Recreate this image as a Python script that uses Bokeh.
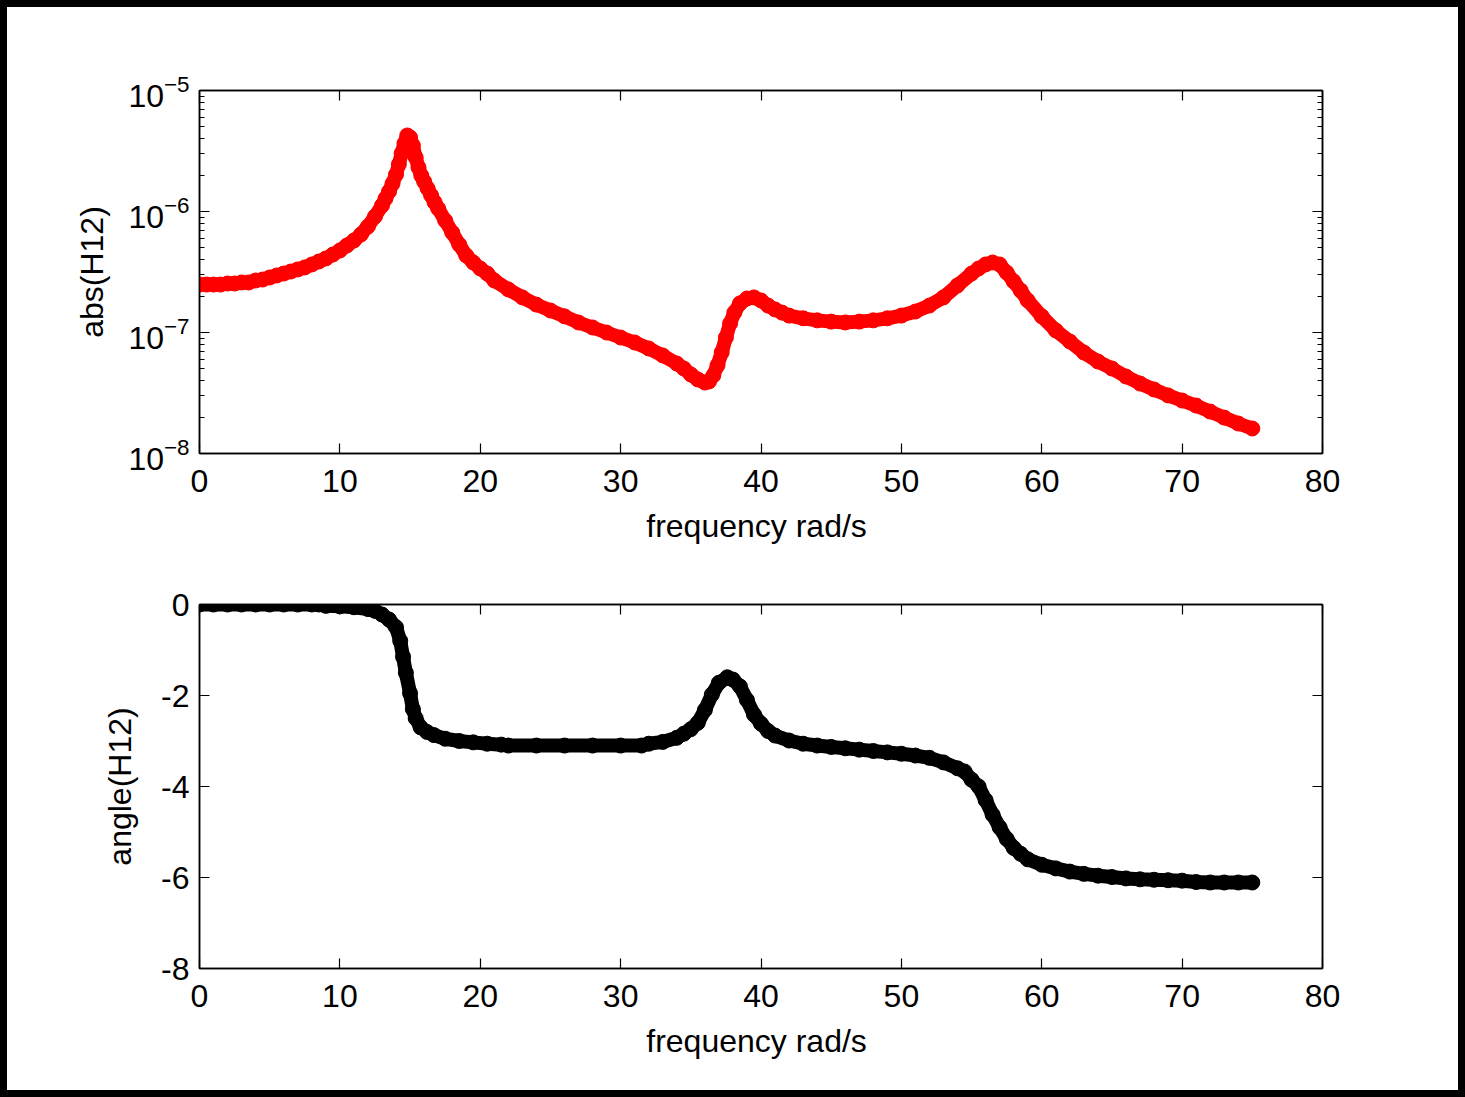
from bokeh.plotting import figure
from bokeh.layouts import column
from bokeh.models import (Range1d, LinearAxis, LogAxis, FixedTicker, LogTicker,
                          CustomJSTickFormatter, LogTickFormatter)
from bokeh.embed import file_html
from bokeh.resources import INLINE

# ---- data ----
freq_mag = [0, 0.5, 1, 1.5, 2, 2.5, 3, 3.5, 4, 4.5, 5, 5.5, 6, 6.5, 7, 7.5, 8, 8.5,
            9, 9.5, 10, 10.5, 11, 11.5, 12, 12.5, 13, 13.25, 13.5, 13.75, 14, 14.2,
            14.4, 14.6, 14.8, 15.0, 15.2, 15.4, 15.6, 15.8, 16.0, 16.25, 16.5, 16.75,
            17, 17.5, 18, 18.5, 19, 19.5, 20, 20.5, 21, 22, 23, 24, 25, 26, 27, 28,
            29, 30, 31, 32, 33, 34, 34.5, 35, 35.5, 36, 36.3, 36.6, 36.9, 37.2, 37.5,
            37.8, 38.1, 38.5, 39, 39.5, 40, 40.5, 41, 41.5, 42, 43, 44, 45, 46, 47,
            48, 49, 50, 51, 52, 53, 54, 55, 55.5, 56, 56.5, 57, 57.5, 58, 58.5, 59,
            60, 61, 62, 63, 64, 65, 66, 67, 68, 69, 70, 71, 72, 73, 74, 75]
abs_h12 = [2.49e-7, 2.49e-7, 2.49e-7, 2.49e-7, 2.54e-7, 2.54e-7, 2.59e-7, 2.59e-7,
           2.69e-7, 2.74e-7, 2.85e-7, 2.96e-7, 3.07e-7, 3.19e-7, 3.32e-7, 3.45e-7,
           3.65e-7, 3.86e-7, 4.09e-7, 4.41e-7, 4.76e-7, 5.24e-7, 5.76e-7, 6.46e-7,
           7.52e-7, 9.09e-7, 1.12e-6, 1.28e-6, 1.46e-6, 1.70e-6, 2.02e-6, 2.45e-6,
           3.02e-6, 3.65e-6, 4.25e-6, 4.09e-6, 3.51e-6, 2.80e-6, 2.31e-6, 1.98e-6,
           1.77e-6, 1.55e-6, 1.36e-6, 1.19e-6, 1.06e-6, 8.43e-7, 6.71e-7, 5.34e-7,
           4.33e-7, 3.79e-7, 3.38e-7, 3.07e-7, 2.69e-7, 2.27e-7, 1.95e-7, 1.70e-7,
           1.52e-7, 1.36e-7, 1.21e-7, 1.10e-7, 1.00e-7, 9.09e-8, 8.27e-8, 7.38e-8,
           6.46e-8, 5.54e-8, 5.04e-8, 4.50e-8, 4.09e-8, 3.86e-8, 3.94e-8, 4.41e-8,
           5.34e-8, 6.83e-8, 9.09e-8, 1.19e-7, 1.46e-7, 1.74e-7, 1.91e-7, 1.95e-7,
           1.84e-7, 1.67e-7, 1.55e-7, 1.46e-7, 1.38e-7, 1.31e-7, 1.26e-7, 1.23e-7,
           1.21e-7, 1.23e-7, 1.26e-7, 1.31e-7, 1.38e-7, 1.49e-7, 1.67e-7, 1.95e-7,
           2.45e-7, 3.07e-7, 3.38e-7, 3.65e-7, 3.79e-7, 3.65e-7, 3.13e-7, 2.64e-7,
           2.22e-7, 1.84e-7, 1.36e-7, 1.04e-7, 8.43e-8, 6.83e-8, 5.76e-8, 5.04e-8,
           4.33e-8, 3.79e-8, 3.38e-8, 3.02e-8, 2.74e-8, 2.49e-8, 2.22e-8, 1.98e-8,
           1.77e-8, 1.61e-8]

freq_ang = [0, 1, 2, 3, 4, 5, 6, 7, 8, 8.5, 9, 10, 11, 12, 12.5, 13, 13.5, 14, 14.3,
            14.5, 14.7, 15.0, 15.2, 15.4, 15.75, 16.2, 16.7, 17.5, 18.5, 19.5, 20.5,
            21.5, 22, 24, 26, 28, 30, 31.5, 32, 33, 34, 34.5, 35, 35.5, 36, 36.5, 37,
            37.6, 38, 38.5, 39, 39.5, 40, 40.5, 41, 42, 43, 44, 45, 46, 47, 48, 49,
            50, 51, 52, 53, 54, 54.5, 55, 55.5, 56, 56.5, 57, 57.5, 58, 58.5, 59, 60,
            61, 62, 63, 64, 65, 66, 67, 68, 69, 70, 71, 72, 73, 74, 75]
angle_h12 = [0, 0, 0, 0, 0, 0, 0, 0, 0, 0, -0.03, -0.04, -0.06, -0.1, -0.14, -0.22,
             -0.33, -0.5, -0.8, -1.15, -1.5, -1.95, -2.3, -2.5, -2.7, -2.8, -2.87,
             -2.95, -3.0, -3.03, -3.06, -3.08, -3.1, -3.1, -3.1, -3.1, -3.1, -3.1,
             -3.06, -3.02, -2.93, -2.84, -2.74, -2.6, -2.32, -1.98, -1.72, -1.6,
             -1.65, -1.8, -2.1, -2.42, -2.62, -2.78, -2.88, -2.99, -3.06, -3.1,
             -3.13, -3.16, -3.19, -3.22, -3.25, -3.28, -3.32, -3.37, -3.47, -3.6,
             -3.67, -3.85, -4.0, -4.3, -4.62, -4.9, -5.15, -5.35, -5.48, -5.6,
             -5.72, -5.8, -5.87, -5.92, -5.96, -5.99, -6.02, -6.04, -6.05, -6.06,
             -6.07, -6.1, -6.11, -6.11, -6.11, -6.11]

freq_ticks = [0, 10, 20, 30, 40, 50, 60, 70, 80]
angle_ticks = [-8, -6, -4, -2, 0]
mag_range = [1e-8, 1e-5]

FONT = "Liberation Sans"
FS = "32px"


def style_axis(ax, labels=True, minor=False):
    ax.axis_line_color = "black"
    ax.axis_line_width = 1.5
    ax.major_tick_line_color = "black"
    ax.major_tick_line_width = 1.2
    ax.major_tick_in = 10
    ax.major_tick_out = 0
    if minor:
        ax.minor_tick_line_color = "black"
        ax.minor_tick_in = 5
        ax.minor_tick_out = 0
    else:
        ax.minor_tick_line_color = None
    ax.major_label_text_font = FONT
    ax.major_label_text_font_size = FS
    ax.major_label_text_color = "black"
    ax.axis_label_text_font = FONT
    ax.axis_label_text_font_size = FS
    ax.axis_label_text_font_style = "normal"
    ax.axis_label_text_color = "black"
    if not labels:
        ax.formatter = CustomJSTickFormatter(code="return ''")
        ax.major_label_standoff = 0


def make_fig(height, top, bottom, **kw):
    p = figure(width=1451, height=height, output_backend="svg", toolbar_location=None,
               min_border_left=192, min_border_right=136, min_border_top=top,
               min_border_bottom=bottom, **kw)
    p.grid.visible = False
    p.outline_line_color = "black"
    p.outline_line_width = 1.5
    p.background_fill_color = "white"
    p.border_fill_color = "white"
    return p


# ---- top: magnitude ----
p1 = make_fig(541, 83, 95, x_range=Range1d(0, 80),
              y_range=Range1d(mag_range[0], mag_range[1]), y_axis_type="log")
p1.line(freq_mag, abs_h12, line_color="#ff0000", line_width=14,
        line_join="round", line_cap="round")
p1.scatter(freq_mag, abs_h12, size=15, fill_color="#ff0000", line_color="#ff0000")

p1.xaxis.ticker = FixedTicker(ticks=freq_ticks)
p1.xaxis.axis_label = "frequency  rad/s"
p1.xaxis.major_label_standoff = 16
p1.xaxis.axis_label_standoff = 13
style_axis(p1.xaxis[0])
p1.yaxis.ticker = LogTicker(num_minor_ticks=10)
p1.yaxis.formatter = LogTickFormatter()
style_axis(p1.yaxis[0], minor=True)
p1.yaxis.major_label_standoff = 10
p1.yaxis.axis_label = "abs(H12)"
p1.yaxis.axis_label_standoff = 15

top1 = LinearAxis(ticker=FixedTicker(ticks=freq_ticks))
style_axis(top1, labels=False)
p1.add_layout(top1, "above")
right1 = LogAxis(ticker=LogTicker(num_minor_ticks=10))
style_axis(right1, labels=False, minor=True)
p1.add_layout(right1, "right")

# ---- bottom: phase ----
p2 = make_fig(542, 56, 122, x_range=Range1d(0, 80), y_range=Range1d(-8, 0))
p2.line(freq_ang, angle_h12, line_color="black", line_width=14,
        line_join="round", line_cap="round")
p2.scatter(freq_ang, angle_h12, size=15, fill_color="black", line_color="black")

p2.xaxis.ticker = FixedTicker(ticks=freq_ticks)
p2.xaxis.axis_label = "frequency  rad/s"
p2.xaxis.major_label_standoff = 16
p2.xaxis.axis_label_standoff = 13
p2.yaxis.ticker = FixedTicker(ticks=angle_ticks)
p2.yaxis.major_label_overrides = {t: str(t) for t in angle_ticks}
p2.yaxis.axis_label = "angle(H12)"
p2.yaxis.major_label_standoff = 10
p2.yaxis.axis_label_standoff = 20
style_axis(p2.xaxis[0])
style_axis(p2.yaxis[0])

top2 = LinearAxis(ticker=FixedTicker(ticks=freq_ticks))
style_axis(top2, labels=False)
p2.add_layout(top2, "above")
right2 = LinearAxis(ticker=FixedTicker(ticks=angle_ticks))
style_axis(right2, labels=False)
p2.add_layout(right2, "right")

layout = column(p1, p2, spacing=0,
                styles={"border": "7px solid black", "background-color": "white",
                        "box-sizing": "content-box"})

open("out.html", "w").write(file_html(layout, INLINE))
